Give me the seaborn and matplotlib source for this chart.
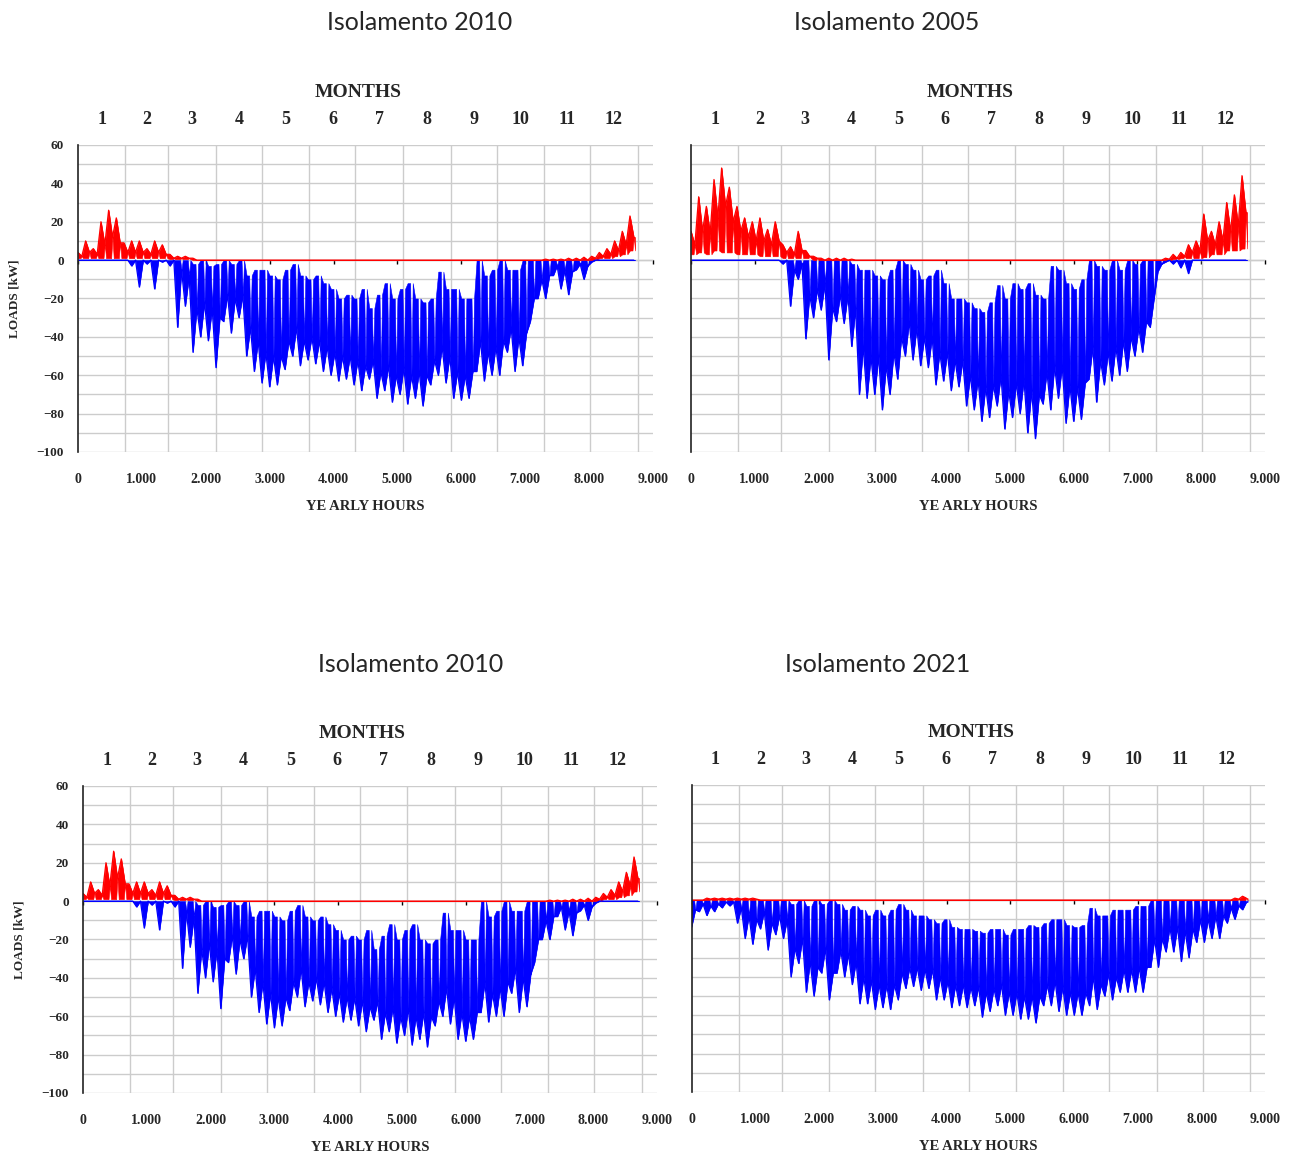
import numpy as np
import pandas as pd
import matplotlib.pyplot as plt
import seaborn as sns

# one sample every 120 hours (5 days)
# lo/hi = tip of the deepest spike and top of the band, core = lower edge of the dense part
hours = list(range(0, 8760, 120))

# --- Isolamento 2010 ---
ins2010_blue_lo = [0, 0, 0, 0, 0, 0, 0, -3, -14, -2, -15, -1, -3, -35, -24, -48, -40, -42, -56, -32,
                   -38, -30, -50, -58, -64, -66, -65, -57, -50, -55, -52, -54, -58, -60, -63, -62, -65, -68, -62, -72,
                   -68, -74, -70, -75, -72, -76, -65, -60, -64, -72, -73, -72, -58, -63, -60, -60, -48, -58, -55, -32,
                   -20, -20, -8, -15, -18, -5, -10, -1, 0, 0, 0, 0, 0]
ins2010_blue_core = [0, 0, 0, 0, 0, 0, 0, 0, 0, 0, 0, 0, 0, -5, -8, -25, -22, -25, -30, -18,
                     -20, -18, -35, -42, -48, -50, -50, -42, -35, -42, -40, -42, -45, -48, -50, -50, -52, -55, -52, -58,
                     -55, -60, -56, -60, -58, -60, -52, -45, -50, -58, -60, -58, -42, -48, -45, -42, -35, -40, -38, -20,
                     -10, -8, -3, -5, -6, -2, -3, 0, 0, 0, 0, 0, 0]
ins2010_blue_hi = [0, 0, 0, 0, 0, 0, 0, 0, 0, 0, 0, 0, 0, 0, 0, -2, 0, -3, -2, 0,
                   -2, 0, -8, -5, -5, -8, -10, -5, -2, -8, -10, -8, -12, -15, -20, -18, -20, -15, -25, -18,
                   -12, -20, -15, -12, -20, -22, -20, -6, -15, -15, -20, -20, 0, -8, -5, 0, -5, -5, 0, 0,
                   0, 0, 0, 0, 0, 0, 0, 0, 0, 0, 0, 0, 0]
ins2010_red_hi = [4, 10, 6, 20, 26, 22, 9, 10, 10, 6, 10, 8, 3, 2, 2, 1, 0, 0, 0, 0,
                  0, 0, 0, 0, 0, 0, 0, 0, 0, 0, 0, 0, 0, 0, 0, 0, 0, 0, 0, 0,
                  0, 0, 0, 0, 0, 0, 0, 0, 0, 0, 0, 0, 0, 0, 0, 0, 0, 0, 0, 0,
                  0, 0.5, 0.5, 0.5, 1, 1, 1.5, 2, 4, 6, 10, 15, 23]
ins2010_red_core = [2, 4, 3, 8, 12, 9, 4, 4, 4, 3, 4, 3, 1, 1, 1, 0, 0, 0, 0, 0,
                    0, 0, 0, 0, 0, 0, 0, 0, 0, 0, 0, 0, 0, 0, 0, 0, 0, 0, 0, 0,
                    0, 0, 0, 0, 0, 0, 0, 0, 0, 0, 0, 0, 0, 0, 0, 0, 0, 0, 0, 0,
                    0, 0, 0, 0, 0, 0, 0, 1, 2, 3, 5, 8, 12]
ins2010_red_lo = [1, 1, 1, 1, 1, 1, 1, 1, 1, 1, 1, 1, 0.5, 0.5, 0.5, 0, 0, 0, 0, 0,
                  0, 0, 0, 0, 0, 0, 0, 0, 0, 0, 0, 0, 0, 0, 0, 0, 0, 0, 0, 0,
                  0, 0, 0, 0, 0, 0, 0, 0, 0, 0, 0, 0, 0, 0, 0, 0, 0, 0, 0, 0,
                  0, 0, 0, 0, 0, 0, 0, 0, 1, 1, 2, 3, 5]

# --- Isolamento 2005 ---
ins2005_blue_lo = [0, 0, 0, 0, 0, 0, 0, 0, 0, 0, 0, 0, -2, -24, -10, -41, -30, -26, -52, -32,
                   -33, -45, -70, -72, -70, -78, -70, -62, -50, -52, -55, -56, -65, -63, -68, -66, -76, -78, -84, -82,
                   -76, -88, -82, -80, -90, -93, -75, -78, -72, -85, -84, -83, -62, -74, -65, -63, -60, -58, -50, -48,
                   -35, -6, -1, -2, -4, -7, 0, 0, 0, 0, 0, 0, 0]
ins2005_blue_core = [0, 0, 0, 0, 0, 0, 0, 0, 0, 0, 0, 0, 0, -5, -2, -18, -15, -12, -25, -18,
                     -18, -25, -45, -50, -50, -55, -48, -40, -32, -35, -40, -40, -48, -48, -52, -52, -60, -62, -66, -65,
                     -60, -68, -64, -62, -68, -70, -58, -55, -55, -65, -66, -64, -45, -52, -48, -45, -42, -40, -35, -32,
                     -20, -2, 0, 0, 0, 0, 0, 0, 0, 0, 0, 0, 0]
ins2005_blue_hi = [0, 0, 0, 0, 0, 0, 0, 0, 0, 0, 0, 0, 0, 0, 0, 0, 0, 0, 0, 0,
                   0, -2, -5, -5, -8, -10, -5, 0, -2, -5, -10, -8, -5, -12, -20, -20, -22, -25, -27, -22,
                   -13, -20, -12, -15, -12, -18, -20, -3, -5, -12, -15, -10, 0, -3, -5, 0, -5, 0, -2, 0,
                   0, 0, 0, 0, 0, 0, 0, 0, 0, 0, 0, 0, 0]
ins2005_red_hi = [15, 33, 28, 42, 48, 38, 28, 22, 20, 22, 16, 20, 8, 7, 15, 5, 2, 1, 1, 1,
                  1, 0.5, 0, 0, 0, 0, 0, 0, 0, 0, 0, 0, 0, 0, 0, 0, 0, 0, 0, 0,
                  0, 0, 0, 0, 0, 0, 0, 0, 0, 0, 0, 0, 0, 0, 0, 0, 0, 0, 0, 0,
                  0, 0, 1, 3, 4, 8, 10, 24, 15, 20, 30, 34, 44]
ins2005_red_core = [8, 15, 14, 22, 28, 20, 15, 12, 10, 10, 8, 10, 4, 3, 5, 2, 1, 0, 0, 0,
                    0, 0, 0, 0, 0, 0, 0, 0, 0, 0, 0, 0, 0, 0, 0, 0, 0, 0, 0, 0,
                    0, 0, 0, 0, 0, 0, 0, 0, 0, 0, 0, 0, 0, 0, 0, 0, 0, 0, 0, 0,
                    0, 0, 0.5, 1, 2, 4, 5, 10, 8, 10, 15, 18, 25]
ins2005_red_lo = [3, 4, 3, 5, 4, 4, 3, 3, 3, 2, 2, 2, 1, 1, 1, 1, 0, 0, 0, 0,
                  0, 0, 0, 0, 0, 0, 0, 0, 0, 0, 0, 0, 0, 0, 0, 0, 0, 0, 0, 0,
                  0, 0, 0, 0, 0, 0, 0, 0, 0, 0, 0, 0, 0, 0, 0, 0, 0, 0, 0, 0,
                  0, 0, 0, 0.5, 1, 1, 1, 1.5, 3, 3, 5, 5, 6]

# --- Isolamento 2021 ---
ins2021_blue_lo = [-14, -6, -8, -6, -4, -3, -12, -20, -23, -15, -26, -18, -20, -40, -33, -48, -50, -38, -52, -38,
                   -40, -44, -54, -54, -57, -56, -57, -52, -46, -45, -47, -46, -52, -52, -56, -55, -56, -55, -61, -58,
                   -55, -60, -60, -62, -62, -64, -55, -55, -58, -60, -60, -60, -55, -57, -50, -52, -48, -48, -48, -48,
                   -35, -35, -27, -27, -32, -30, -22, -22, -20, -20, -12, -10, -5]
ins2021_blue_core = [-5, -2, -3, -2, -1, -1, -4, -8, -10, -6, -12, -8, -10, -25, -20, -32, -35, -25, -38, -26,
                     -28, -32, -40, -42, -44, -44, -44, -38, -35, -35, -36, -36, -40, -42, -44, -44, -45, -45, -48, -46,
                     -44, -48, -48, -50, -50, -50, -44, -42, -45, -48, -48, -48, -40, -44, -38, -40, -36, -36, -35, -35,
                     -20, -20, -14, -14, -16, -15, -10, -10, -8, -8, -4, -3, -1]
ins2021_blue_hi = [0, 0, 0, 0, 0, 0, 0, 0, 0, 0, 0, 0, 0, -2, 0, -3, 0, -2, 0, -2,
                   -5, -3, -5, -8, -5, -8, -5, -2, -5, -8, -8, -10, -12, -10, -14, -15, -15, -16, -17, -15,
                   -15, -18, -15, -15, -13, -14, -12, -10, -10, -13, -14, -13, -4, -8, -8, -5, -5, -5, -3, -3,
                   0, 0, 0, 0, 0, 0, 0, 0, 0, 0, 0, 0, 0]
ins2021_red_hi = [0, 0, 1, 1, 1, 1, 1, 1, 1, 0, 0, 0, 0, 0, 0, 0, 0, 0, 0, 0,
                  0, 0, 0, 0, 0, 0, 0, 0, 0, 0, 0, 0, 0, 0, 0, 0, 0, 0, 0, 0,
                  0, 0, 0, 0, 0, 0, 0, 0, 0, 0, 0, 0, 0, 0, 0, 0, 0, 0, 0, 0,
                  0, 0, 0, 0, 0, 0, 0, 0, 0, 0, 0, 1, 2]
ins2021_red_core = [0, 0, 0.5, 0.5, 0.5, 0.5, 0.5, 0.5, 0.5, 0, 0, 0, 0, 0, 0, 0, 0, 0, 0, 0,
                    0, 0, 0, 0, 0, 0, 0, 0, 0, 0, 0, 0, 0, 0, 0, 0, 0, 0, 0, 0,
                    0, 0, 0, 0, 0, 0, 0, 0, 0, 0, 0, 0, 0, 0, 0, 0, 0, 0, 0, 0,
                    0, 0, 0, 0, 0, 0, 0, 0, 0, 0, 0, 0.5, 1]
ins2021_red_lo = [0] * 73

month_days = [31, 28, 31, 30, 31, 30, 31, 31, 30, 31, 30, 31]
month_labels = [str(m) for m in range(1, 13)]
hour_labels = ['0'] + [f'{k}.000' for k in range(1, 10)]

month_edges = np.concatenate([[0], np.cumsum(month_days) * 24])
month_mids = (month_edges[:-1] + month_edges[1:]) / 2

sns.set_style("white")
plt.rcParams['font.family'] = ['Liberation Serif', 'DejaVu Serif']
plt.rcParams['font.weight'] = 'bold'
plt.rcParams['axes.labelweight'] = 'bold'

BLUE = '#0000ff'
RED = '#ff0000'


def draw_load(ax, tip, core, edge, color):
    # edge side of the band: flat, with narrow notches reaching down to the core
    xe, ye = [], []
    for h, c, e in zip(hours, core, edge):
        xe += [h, h + 40, h + 60, h + 80]
        ye += [e, e, c, e]
    # tip side: one spike per sample
    xt, yt = [], []
    for h, t, c in zip(hours, tip, core):
        xt += [h, h + 60]
        yt += [t, c]
    xs = np.union1d(xe, xt)
    ax.fill_between(xs, np.interp(xs, xe, ye), np.interp(xs, xt, yt),
                    color=color, lw=0.4, edgecolor=color)
    trace = pd.DataFrame({'hour': xt, 'load': yt})
    sns.lineplot(data=trace, x='hour', y='load', ax=ax, color=color, lw=0.9,
                 estimator=None, sort=False, legend=False)


def draw_panel(ax, blue, red, left_labels):
    draw_load(ax, *blue, BLUE)
    draw_load(ax, *red, RED)

    ax.set_xlim(0, 9000)
    ax.set_ylim(-100, 60)
    ax.set_xticks(range(0, 9001, 1000))
    ax.set_xticklabels(hour_labels)
    ax.set_xticks(month_edges, minor=True)
    ax.set_yticks(range(-100, 61, 20))
    ax.set_yticks(range(-90, 60, 20), minor=True)
    ax.grid(axis='x', which='minor', color='#cccccc', lw=1)
    ax.grid(axis='y', which='both', color='#cccccc', lw=1)
    ax.set_axisbelow(True)
    ax.tick_params(axis='x', which='both', length=0, pad=15, labelsize=10)
    ax.tick_params(axis='y', which='major', length=4, width=1, color='#222222', pad=6,
                   labelsize=9.5, labelleft=left_labels)
    ax.tick_params(axis='y', which='minor', length=0)
    for s in ['top', 'right', 'bottom']:
        ax.spines[s].set_visible(False)
    ax.spines['left'].set_color('#222222')
    ax.spines['left'].set_linewidth(1.2)
    ax.set_xlabel('YE ARLY HOURS', fontsize=10.5, labelpad=10)
    if left_labels:
        ax.set_ylabel('LOADS [kW]', fontsize=9.5, labelpad=12)
    else:
        ax.set_ylabel('')

    zero = ax.secondary_xaxis(0.625)
    zero.set_xticks(range(0, 9001, 1000))
    zero.tick_params(direction='in', length=3, width=1, color='black', labeltop=False, labelbottom=False)
    for s in zero.spines.values():
        s.set_color('#555555')

    top = ax.secondary_xaxis('top')
    top.set_xticks(month_mids)
    top.set_xticklabels(month_labels)
    top.tick_params(length=0, labelsize=13, pad=12)
    top.spines['top'].set_visible(False)
    top.set_xlabel('MONTHS', fontsize=14, labelpad=10, x=0.487)


fig = plt.figure(figsize=(12.95, 11.56), dpi=100)

ax_tl = fig.add_axes([0.0602, 0.6090, 0.4440, 0.2656])
ax_tr = fig.add_axes([0.5336, 0.6090, 0.4432, 0.2656])
ax_bl = fig.add_axes([0.0641, 0.0545, 0.4432, 0.2656])
ax_br = fig.add_axes([0.5340, 0.0554, 0.4432, 0.2656])

blue2010 = (ins2010_blue_lo, ins2010_blue_core, ins2010_blue_hi)
red2010 = (ins2010_red_hi, ins2010_red_core, ins2010_red_lo)
draw_panel(ax_tl, blue2010, red2010, True)
draw_panel(ax_tr, (ins2005_blue_lo, ins2005_blue_core, ins2005_blue_hi),
           (ins2005_red_hi, ins2005_red_core, ins2005_red_lo), False)
draw_panel(ax_bl, blue2010, red2010, True)
draw_panel(ax_br, (ins2021_blue_lo, ins2021_blue_core, ins2021_blue_hi),
           (ins2021_red_hi, ins2021_red_core, ins2021_red_lo), False)

title_kw = dict(fontsize=18, fontweight='normal', family=['Lato', 'DejaVu Sans'], ha='center', va='center')
fig.text(420 / 1295, 1 - 22 / 1156, 'Isolamento 2010', **title_kw)
fig.text(887 / 1295, 1 - 22 / 1156, 'Isolamento 2005', **title_kw)
fig.text(411 / 1295, 1 - 665 / 1156, 'Isolamento 2010', **title_kw)
fig.text(878 / 1295, 1 - 665 / 1156, 'Isolamento 2021', **title_kw)

plt.savefig("out.png", dpi=100)
plt.close()
